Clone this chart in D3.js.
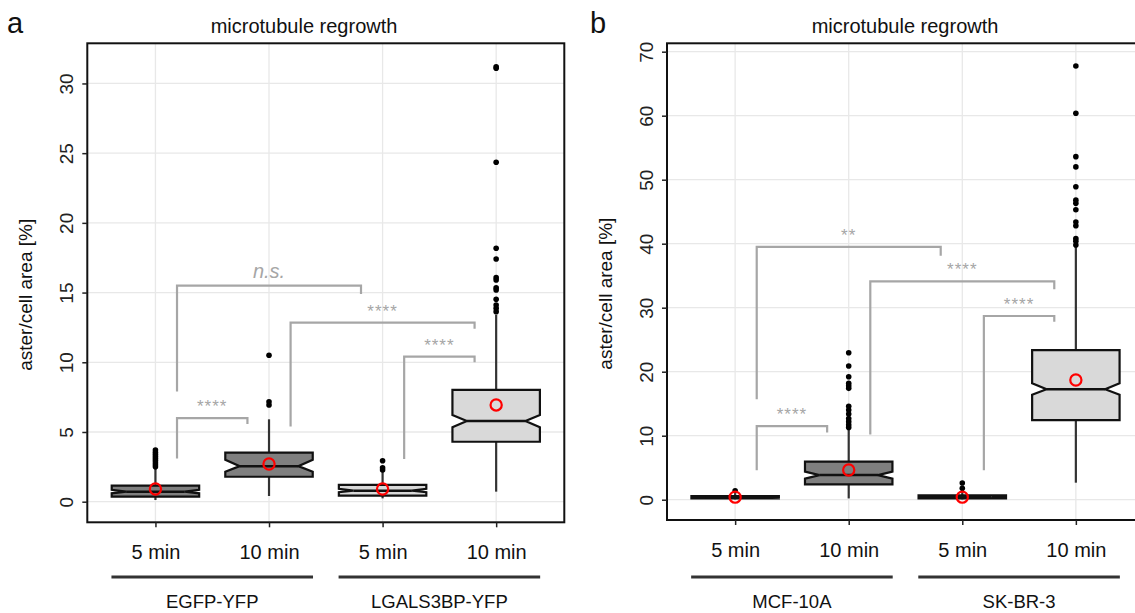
<!DOCTYPE html>
<html><head><meta charset="utf-8">
<script src="https://cdn.jsdelivr.net/npm/d3@7"></script>
<style>body{margin:0;background:#fff;}svg{font-family:"Liberation Sans",Arial,sans-serif;}</style>
</head><body><svg id="c" width="1135" height="613"></svg>
<script>
// ---------- DATA ----------
const timeLabels = ["5 min", "10 min", "5 min", "10 min"];
const groupLabelsA = ["EGFP-YFP", "LGALS3BP-YFP"];
const groupLabelsB = ["MCF-10A", "SK-BR-3"];
const boxFill = ["#7f7f7f", "#7f7f7f", "#d9d9d9", "#d9d9d9"];
const boxFillB = ["#7f7f7f", "#7f7f7f", "#d9d9d9", "#d9d9d9"];

// panel a
const a_q1 = [0.36, 1.79, 0.43, 4.30];
const a_med = [0.72, 2.55, 0.79, 5.79];
const a_q3 = [1.15, 3.52, 1.20, 8.02];
const a_notchLo = [0.60, 2.15, 0.68, 5.34];
const a_notchHi = [0.85, 3.00, 0.92, 6.22];
const a_whiskLo = [0.12, 0.41, 0.24, 0.72];
const a_whiskHi = [2.40, 5.91, 2.15, 13.4];
const a_mean = [0.91, 2.70, 0.91, 6.94];
const a_outliers = [
  [2.5, 2.65, 2.8, 2.95, 3.1, 3.25, 3.4, 3.55, 3.7],
  [6.94, 7.17, 10.5],
  [2.27, 2.44, 2.94],
  [13.63, 13.87, 14.1, 14.52, 15.19, 15.35, 15.9, 16.07, 17.41, 18.18, 24.35, 31.09, 31.2]
];
const a_yTicks = [0, 5, 10, 15, 20, 25, 30];
// brackets: [from, to, leftStartY, topY, rightEndY, label]
const a_brackets = [
  [0, 2, 7.9, 15.5, 14.9, "n.s."],
  [0, 1, 3.1, 6.0, 5.57, "****"],
  [1, 3, 5.4, 12.85, 12.4, "****"],
  [2, 3, 3.06, 10.4, 10.0, "****"]
];

// panel b
const b_q1 = [0.20, 2.40, 0.22, 12.45];
const b_med = [0.37, 3.85, 0.45, 17.25];
const b_q3 = [0.55, 5.94, 0.70, 23.36];
const b_notchLo = [0.30, 3.30, 0.35, 16.40];
const b_notchHi = [0.45, 4.40, 0.55, 18.20];
const b_whiskLo = [0.05, 0.20, 0.05, 2.66];
const b_whiskHi = [1.0, 11.0, 1.5, 39.5];
const b_mean = [0.40, 4.64, 0.40, 18.70];
const b_outliers = [
  [1.4],
  [11.3, 11.7, 12.2, 12.7, 13.4, 14.0, 14.6, 17.4, 17.8, 18.2, 19.2, 20.9, 22.97],
  [1.78, 2.6],
  [39.8, 40.4, 40.8, 42.8, 43.4, 45.3, 46.3, 46.8, 48.9, 52.0, 53.6, 60.37, 67.77]
];
const b_yTicks = [0, 10, 20, 30, 40, 50, 60, 70];
const b_brackets = [
  [0, 2, 15.7, 39.5, 38.1, "**"],
  [0, 1, 4.6, 11.5, 10.5, "****"],
  [1, 3, 10.2, 34.1, 32.9, "****"],
  [2, 3, 4.6, 28.7, 27.8, "****"]
];

const svg = d3.select("#c");

function panel(opt) {
  const {left, right, top, bottom, yDomain, ticks, q1, med, q3, nLo, nHi, wLo, wHi, mean, outliers, brackets, groups, letter, letterX, titleX, fills} = opt;
  const x = d3.scaleLinear().domain([-0.6, 3.6]).range([left, right]);
  const y = d3.scaleLinear().domain(yDomain).range([bottom, top]);
  const g = svg.append("g");
  const clipId = "clip" + letter;
  svg.append("clipPath").attr("id", clipId).append("rect")
    .attr("x", left).attr("y", top).attr("width", right - left).attr("height", bottom - top);
  const pg = g.append("g").attr("clip-path", `url(#${clipId})`);

  // grid
  pg.selectAll(".gy").data(ticks).join("line")
    .attr("x1", left).attr("x2", right).attr("y1", d => y(d)).attr("y2", d => y(d))
    .attr("stroke", "#e8e8e8").attr("stroke-width", 1.3);
  pg.selectAll(".gx").data(d3.range(4)).join("line")
    .attr("x1", d => x(d)).attr("x2", d => x(d)).attr("y1", top).attr("y2", bottom)
    .attr("stroke", "#e8e8e8").attr("stroke-width", 1.3);

  const bw = (x(1) - x(0)) * 0.77;
  const inset = bw * 0.165;

  // brackets
  const off = (x(1) - x(0)) * 0.19;
  brackets.forEach(b => {
    const x1 = x(b[0]) + off, x2 = x(b[1]) - off;
    pg.append("path")
      .attr("d", `M${x1},${y(b[2])}L${x1},${y(b[3])}L${x2},${y(b[3])}L${x2},${y(b[4])}`)
      .attr("fill", "none").attr("stroke", "#a6a6a6").attr("stroke-width", 2.2);
    const isNs = b[5] === "n.s.";
    pg.append("text").attr("x", (x1 + x2) / 2).attr("y", y(b[3]) - (isNs ? 8 : 6))
      .attr("text-anchor", "middle").attr("fill", "#a6a6a6")
      .attr("font-size", isNs ? 20 : 17).attr("letter-spacing", isNs ? 0 : 1)
      .attr("font-style", isNs ? "italic" : "normal")
      .text(b[5]);
  });

  // whiskers
  d3.range(4).forEach(i => {
    pg.append("line").attr("x1", x(i)).attr("x2", x(i)).attr("y1", y(wLo[i])).attr("y2", y(q1[i]))
      .attr("stroke", "#333").attr("stroke-width", 2.2);
    pg.append("line").attr("x1", x(i)).attr("x2", x(i)).attr("y1", y(q3[i])).attr("y2", y(wHi[i]))
      .attr("stroke", "#333").attr("stroke-width", 2.2);
  });
  // outliers
  d3.range(4).forEach(i => {
    pg.selectAll(null).data(outliers[i]).join("circle")
      .attr("cx", x(i)).attr("cy", d => y(d)).attr("r", 2.8).attr("fill", "#000");
  });
  // boxes
  d3.range(4).forEach(i => {
    const l = x(i) - bw / 2, r = x(i) + bw / 2;
    const d = `M${l},${y(q3[i])}L${r},${y(q3[i])}L${r},${y(nHi[i])}L${r - inset},${y(med[i])}L${r},${y(nLo[i])}` +
      `L${r},${y(q1[i])}L${l},${y(q1[i])}L${l},${y(nLo[i])}L${l + inset},${y(med[i])}L${l},${y(nHi[i])}Z`;
    pg.append("path").attr("d", d).attr("fill", fills[i]).attr("stroke", "#111").attr("stroke-width", 2.2)
      .attr("stroke-linejoin", "miter");
    pg.append("line").attr("x1", l + inset).attr("x2", r - inset).attr("y1", y(med[i])).attr("y2", y(med[i]))
      .attr("stroke", "#111").attr("stroke-width", 2.5);
  });
  // means
  pg.selectAll(".mean").data(mean).join("circle")
    .attr("cx", (d, i) => x(i)).attr("cy", d => y(d)).attr("r", 5.6)
    .attr("fill", "none").attr("stroke", "#ff0000").attr("stroke-width", 2.2);

  // border
  g.append("rect").attr("x", left).attr("y", top).attr("width", right - left).attr("height", bottom - top)
    .attr("fill", "none").attr("stroke", "#111").attr("stroke-width", 2);

  // y axis
  const ya = g.append("g").attr("transform", `translate(${left},0)`)
    .call(d3.axisLeft(y).tickValues(ticks).tickSize(5).tickPadding(0));
  ya.select(".domain").remove();
  ya.selectAll(".tick line").attr("stroke", "#222").attr("stroke-width", 1.5);
  ya.selectAll(".tick text").attr("font-size", 19).attr("fill", "#222")
    .attr("text-anchor", "middle").attr("x", 0).attr("dy", 0)
    .attr("transform", "translate(-21,0) rotate(-90) translate(0,7)");

  // x axis
  const xa = g.append("g").attr("transform", `translate(0,${bottom})`)
    .call(d3.axisBottom(x).tickValues([0, 1, 2, 3]).tickSize(5).tickFormat(i => timeLabels[i]).tickPadding(18));
  xa.select(".domain").remove();
  xa.selectAll(".tick line").attr("stroke", "#222").attr("stroke-width", 1.5);
  xa.selectAll(".tick text").attr("font-size", 20).attr("fill", "#111");

  // group lines and labels
  [0, 1].forEach(k => {
    const xl = x(2 * k) - 44, xr = x(2 * k + 1) + 44;
    g.append("line").attr("x1", xl).attr("x2", xr).attr("y1", 577).attr("y2", 577)
      .attr("stroke", "#333").attr("stroke-width", 3);
    g.append("text").attr("x", (xl + xr) / 2).attr("y", 608).attr("text-anchor", "middle")
      .attr("font-size", 18.5).attr("fill", "#111").text(groups[k]);
  });

  // title
  g.append("text").attr("x", titleX).attr("y", 33).attr("text-anchor", "middle")
    .attr("font-size", 20).attr("fill", "#111").text("microtubule regrowth");
  // letter
  g.append("text").attr("x", letterX).attr("y", 33).attr("font-size", 29).attr("fill", "#111").text(letter);
  // y title
  g.append("text").attr("transform", `translate(${left - 55},${(top + bottom) / 2 + 12}) rotate(-90)`)
    .attr("text-anchor", "middle").attr("font-size", 19).attr("fill", "#111").text("aster/cell area [%]");
}

panel({left: 87.3, right: 564.3, top: 43.3, bottom: 522.3, yDomain: [-1.478, 32.88], ticks: a_yTicks,
  q1: a_q1, med: a_med, q3: a_q3, nLo: a_notchLo, nHi: a_notchHi, wLo: a_whiskLo, wHi: a_whiskHi,
  mean: a_mean, outliers: a_outliers, brackets: a_brackets, groups: groupLabelsA, letter: "a", letterX: 7, titleX: 304, fills: boxFill});
panel({left: 667, right: 1144, top: 43.3, bottom: 520, yDomain: [-3.17, 71.31], ticks: b_yTicks,
  q1: b_q1, med: b_med, q3: b_q3, nLo: b_notchLo, nHi: b_notchHi, wLo: b_whiskLo, wHi: b_whiskHi,
  mean: b_mean, outliers: b_outliers, brackets: b_brackets, groups: groupLabelsB, letter: "b", letterX: 590, titleX: 905, fills: boxFillB});
</script></body></html>
